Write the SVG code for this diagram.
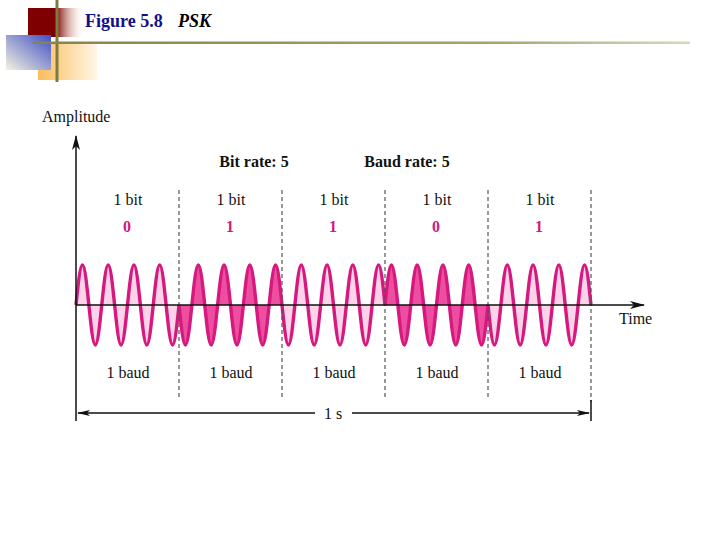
<svg xmlns="http://www.w3.org/2000/svg" xmlns:xlink="http://www.w3.org/1999/xlink" width="720" height="540" viewBox="0 0 720 540">
<style>
.t{font-family:"Liberation Serif","Times New Roman",serif;font-size:16px;fill:#111;}
.b{font-weight:bold;}
.v{font-family:"Liberation Serif","Times New Roman",serif;font-size:16px;font-weight:bold;fill:#d3187e;}
.m{text-anchor:middle;}
.wl{fill:#fcd3e8;stroke:#d6197f;stroke-width:3.4;stroke-linejoin:round;}
.wd{fill:#ee4e9f;stroke:#d6197f;stroke-width:3.4;stroke-linejoin:round;}
.dash{stroke:#555;stroke-width:1.2;stroke-dasharray:4 3;fill:none;}
.ax{stroke:#111;stroke-width:1.5;fill:none;}
</style>
<defs>
<linearGradient id="gRed" x1="0" y1="0" x2="1" y2="0">
<stop offset="0" stop-color="#7e0000"/><stop offset="0.5" stop-color="#800000"/><stop offset="1" stop-color="#fff6e0" stop-opacity="0"/>
</linearGradient>
<linearGradient id="gBlue" x1="1" y1="0" x2="0" y2="1">
<stop offset="0" stop-color="#3f4fc4"/><stop offset="1" stop-color="#f4f2e0"/>
</linearGradient>
<linearGradient id="gOr" x1="0" y1="0" x2="1" y2="0">
<stop offset="0" stop-color="#fbbd5a"/><stop offset="1" stop-color="#fff6e6"/>
</linearGradient>
<linearGradient id="gLine" x1="0" y1="0" x2="1" y2="0">
<stop offset="0" stop-color="#84844a"/><stop offset="0.7" stop-color="#a4a470"/><stop offset="1" stop-color="#d8d8c0"/>
</linearGradient>
<marker id="ah" markerWidth="16" markerHeight="10" refX="14" refY="5" orient="auto" markerUnits="userSpaceOnUse">
<path d="M0,1 L15,5 L0,9 L4,5 Z" fill="#111"/>
</marker>
<marker id="ah2" markerWidth="14" markerHeight="8" refX="12" refY="4" orient="auto-start-reverse" markerUnits="userSpaceOnUse">
<path d="M0,1 L13,4 L0,7 L3,4 Z" fill="#111"/>
</marker>
<path id="w" d="M0,0 c2.099,-20.49 4.175,-40 6.4375,-40 c2.2625,0 4.3385,19.51 6.4375,40 c2.099,20.49 4.175,40 6.4375,40 c2.2625,0 4.3385,-19.51 6.4375,-40 c2.099,-20.49 4.175,-40 6.4375,-40 c2.2625,0 4.3385,19.51 6.4375,40 c2.099,20.49 4.175,40 6.4375,40 c2.2625,0 4.3385,-19.51 6.4375,-40 c2.099,-20.49 4.175,-40 6.4375,-40 c2.2625,0 4.3385,19.51 6.4375,40 c2.099,20.49 4.175,40 6.4375,40 c2.2625,0 4.3385,-19.51 6.4375,-40 c2.099,-20.49 4.175,-40 6.4375,-40 c2.2625,0 4.3385,19.51 6.4375,40 c2.099,20.49 4.175,40 6.4375,40 c2.2625,0 4.3385,-19.51 6.4375,-40"/>
</defs>

<g id="decoration">
<rect x="28" y="8" width="56" height="29" fill="url(#gRed)"/>
<rect x="38" y="43" width="59" height="37" fill="url(#gOr)"/>
<rect x="6" y="35" width="45" height="35" fill="url(#gBlue)"/>
<line x1="57" y1="0" x2="57" y2="82" stroke="#7c7c42" stroke-width="3"/>
<rect x="33" y="41.5" width="657" height="2.5" fill="url(#gLine)"/>
</g>

<g id="title">
<text x="85" y="27" font-family="Liberation Serif, Times New Roman, serif" font-size="18" font-weight="bold" fill="#10108a">Figure 5.8</text>
<text x="178" y="27" font-family="Liberation Serif, Times New Roman, serif" font-size="18" font-weight="bold" font-style="italic" fill="#000">PSK</text>
</g>

<g id="signal">
<use xlink:href="#w" href="#w" class="wl" transform="translate(76,305)"/>
<use xlink:href="#w" href="#w" class="wd" transform="translate(179,305) scale(1,-1)"/>
<use xlink:href="#w" href="#w" class="wl" transform="translate(282,305) scale(1,-1)"/>
<use xlink:href="#w" href="#w" class="wd" transform="translate(385,305)"/>
<use xlink:href="#w" href="#w" class="wl" transform="translate(488,305) scale(1,-1)"/>
</g>

<g id="connectors">
<line class="dash" x1="179" y1="190" x2="179" y2="397"/>
<line class="dash" x1="282" y1="190" x2="282" y2="397"/>
<line class="dash" x1="385" y1="190" x2="385" y2="397"/>
<line class="dash" x1="488" y1="190" x2="488" y2="397"/>
<line class="dash" x1="591" y1="190" x2="591" y2="402"/>
<line class="ax" x1="591" y1="400" x2="591" y2="421"/>
<line class="ax" x1="76" y1="421" x2="76" y2="136" marker-end="url(#ah)"/>
<line class="ax" x1="76" y1="305" x2="644" y2="305" marker-end="url(#ah)"/>
<line class="ax" x1="315" y1="413" x2="78" y2="413" stroke-width="1.2" marker-end="url(#ah2)"/>
<line class="ax" x1="352" y1="413" x2="589" y2="413" stroke-width="1.2" marker-end="url(#ah2)"/>
</g>

<g id="labels">
<text class="t" x="42" y="122">Amplitude</text>
<text class="t b m" x="254" y="167">Bit rate: 5</text>
<text class="t b m" x="407" y="167">Baud rate: 5</text>
<text class="t m" x="128" y="205">1 bit</text>
<text class="t m" x="231" y="205">1 bit</text>
<text class="t m" x="334" y="205">1 bit</text>
<text class="t m" x="437" y="205">1 bit</text>
<text class="t m" x="540" y="205">1 bit</text>
<text class="v m" x="127" y="232">0</text>
<text class="v m" x="230" y="232">1</text>
<text class="v m" x="333" y="232">1</text>
<text class="v m" x="436" y="232">0</text>
<text class="v m" x="539" y="232">1</text>
<text class="t" x="619" y="324">Time</text>
<text class="t m" x="128" y="378">1 baud</text>
<text class="t m" x="231" y="378">1 baud</text>
<text class="t m" x="334" y="378">1 baud</text>
<text class="t m" x="437" y="378">1 baud</text>
<text class="t m" x="540" y="378">1 baud</text>
<text class="t m" x="333" y="419">1 s</text>
</g>
</svg>
